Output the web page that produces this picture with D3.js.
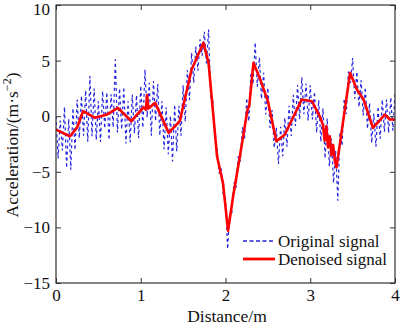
<!DOCTYPE html>
<html><head><meta charset="utf-8">
<script src="https://cdn.jsdelivr.net/npm/d3@7"></script>
<style>body{margin:0;background:#fff} text{font-family:"Liberation Serif","DejaVu Serif",serif}</style>
</head><body><svg id="c" width="400" height="325"></svg>
<script>
const xTicks = [0, 1, 2, 3, 4];
const yTicks = [-15, -10, -5, 0, 5, 10];
const xLabel = "Distance/m";
const seriesNames = ["Original signal", "Denoised signal"];
// Original signal, sampled every 0.025 m from 0 to 4 m
const originalStep = 0.025;
const originalValues = [
 0.0,-3.79,-0.39,-3.08,0.83,-4.66,-0.25,-4.81,0.73,-3.04,
 1.5,-1.98,1.84,-1.76,2.32,-2.29,3.61,-1.8,2.49,-2.12,
 1.34,-2.31,2.24,-1.1,2.15,-2.13,1.98,-1.0,5.11,-1.47,
 2.5,-1.19,2.63,-2.46,1.35,-2.34,1.94,-1.54,1.89,-1.99,
 2.73,-1.04,4.2,-0.1,3.0,-1.75,3.15,-0.45,2.89,-1.73,
 1.35,-2.97,0.81,-3.42,0.03,-4.07,1.04,-3.16,0.94,-1.75,
 2.78,-0.49,4.14,1.47,5.7,3.0,6.26,4.09,6.91,5.44,
 7.6,4.75,7.8,1.7,1.4,-2.1,-2.8,-5.16,-4.71,-7.15,
 -7.45,-11.94,-8.67,-8.68,-5.95,-6.43,-3.6,-4.07,-1.0,-2.03,
 1.63,-0.45,3.9,2.85,6.63,2.66,5.29,1.55,3.9,0.15,
 2.55,-1.05,0.55,-2.85,-1.05,-4.3,-0.95,-3.6,-0.15,-2.75,
 0.94,-1.77,1.92,-0.88,2.81,-0.29,3.5,0.17,2.94,-0.39,
 2.78,-0.3,2.2,-1.47,1.45,-2.3,0.7,-3.8,-0.2,-4.5,
 -2.0,-6.0,-3.1,-7.6,-1.48,-2.65,1.57,0.2,4.02,3.0,
 5.24,1.58,4.0,0.82,3.24,0.06,2.6,-1.12,1.18,-2.4,
 0.24,-2.75,0.87,-2.02,1.49,-1.4,1.5,-1.49,1.7,-1.3,
 2.1
];
// Denoised signal
const denoisedX = [0,0.08,0.165,0.25,0.32,0.46,0.6,0.73,0.89,1.03,1.06,1.075,1.09,1.17,1.33,1.46,1.6,1.74,1.8,1.9,1.97,2.03,2.09,2.17,2.26,2.28,2.33,2.41,2.5,2.6,2.7,2.9,3.02,3.08,3.12,3.15,3.17,3.19,3.21,3.23,3.25,3.27,3.29,3.31,3.47,3.55,3.63,3.74,3.88,3.94,4.0];
const denoisedY = [-1.2,-1.5,-1.8,-1.0,0.45,-0.15,0.15,0.75,-0.45,0.8,0.6,1.9,0.7,1.2,-1.5,-0.45,4.2,6.6,4.8,-3.6,-6.0,-10.3,-7.2,-3.6,0.6,0.9,4.8,3.3,1.35,-2.25,-1.65,1.5,1.35,0.45,-0.15,-0.8,-2.2,-0.9,-2.8,-1.8,-3.5,-2.6,-4.0,-4.6,3.9,2.4,1.5,-1.05,0.15,-0.3,-0.3];

const svg = d3.select("#c");
const L = 56, R = 395, T = 5, B = 283;
const x = d3.scaleLinear().domain([0, 4]).range([L, R]);
const y = d3.scaleLinear().domain([-15, 10]).range([B, T]);
const FS = 17;

const orig = originalValues.map((v, i) => [i * originalStep, v]);
const den = denoisedX.map((v, i) => [v, denoisedY[i]]);
const line = d3.line().x(d => x(d[0])).y(d => y(d[1]));

svg.append("clipPath").attr("id","clp").append("rect")
  .attr("x", L).attr("y", T).attr("width", R - L).attr("height", B - T);

const g = svg.append("g").attr("clip-path","url(#clp)");
g.append("path").datum(orig).attr("d", line).attr("fill","none")
  .attr("stroke","#2424e0").attr("stroke-width",1.2).attr("stroke-dasharray","3,3");
g.append("path").datum(den).attr("d", line).attr("fill","none")
  .attr("stroke","#ff0000").attr("stroke-width",2.6).attr("stroke-linejoin","round");

// axes
const axColor = "#333";
const xb = svg.append("g").attr("transform",`translate(0,${B})`)
  .call(d3.axisBottom(x).tickValues(xTicks).tickSize(-5).tickPadding(6).tickFormat(d3.format("d")));
const xt = svg.append("g").attr("transform",`translate(0,${T})`)
  .call(d3.axisTop(x).tickValues(xTicks).tickSize(-5).tickFormat(""));
const yl = svg.append("g").attr("transform",`translate(${L},0)`)
  .call(d3.axisLeft(y).tickValues(yTicks).tickSize(-5).tickPadding(6).tickFormat(d => d < 0 ? "\u2212" + Math.abs(d) : d));
const yr = svg.append("g").attr("transform",`translate(${R},0)`)
  .call(d3.axisRight(y).tickValues(yTicks).tickSize(-5).tickFormat(""));
[xb, xt, yl, yr].forEach(a => {
  a.attr("font-family", null).attr("font-size", null);
  a.select(".domain").remove();
  a.selectAll("line").attr("stroke", axColor).attr("stroke-width", 1);
  a.selectAll("text").attr("font-size", FS).attr("fill","#111");
});
yl.selectAll(".tick").filter(d => d === 10).select("text").attr("dy", "0.55em");
svg.append("rect").attr("x", L).attr("y", T).attr("width", R - L).attr("height", B - T)
  .attr("fill","none").attr("stroke", axColor).attr("stroke-width", 1.2);

// axis labels
svg.append("text").attr("x", 227).attr("y", 322).attr("text-anchor","middle")
  .attr("font-size", 17.5).attr("fill","#111").text(xLabel);
const yt = svg.append("text").attr("transform","translate(18,145) rotate(-90)").attr("text-anchor","middle")
  .attr("font-size", 17.5).attr("fill","#111");
yt.append("tspan").text("Acceleration/(m\u00b7s");
yt.append("tspan").attr("dy",-7).attr("font-size",12).text("\u22122");
yt.append("tspan").attr("dy",7).text(")");

// legend
const lg = svg.append("g");
const legY = [241, 259];
lg.append("line").attr("x1",243).attr("x2",273).attr("y1",legY[0]).attr("y2",legY[0])
  .attr("stroke","#2424e0").attr("stroke-width",1.6).attr("stroke-dasharray","4,2.5");
lg.append("line").attr("x1",243).attr("x2",275).attr("y1",legY[1]).attr("y2",legY[1])
  .attr("stroke","#ff0000").attr("stroke-width",2.8);
seriesNames.forEach((n, i) => {
  lg.append("text").attr("x", 278).attr("y", legY[i] + 6).attr("font-size", FS)
    .attr("fill","#111").text(n);
});
</script></body></html>
